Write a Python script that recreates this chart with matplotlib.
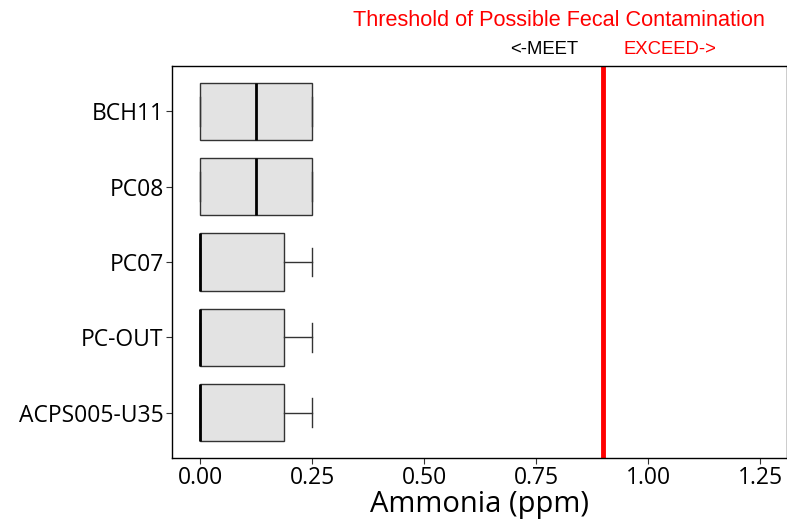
import matplotlib.pyplot as plt
import matplotlib.transforms as mtransforms

# Datos de las cajas (de abajo hacia arriba)
sitios = ["ACPS005-U35", "PC-OUT", "PC07", "PC08", "BCH11"]
q1 = [0.0, 0.0, 0.0, 0.0, 0.0]
mediana = [0.0, 0.0, 0.0, 0.125, 0.125]
q3 = [0.1875, 0.1875, 0.1875, 0.25, 0.25]
bigote_bajo = [0.0, 0.0, 0.0, 0.0, 0.0]
bigote_alto = [0.25, 0.25, 0.25, 0.25, 0.25]
umbral = 0.9
ticks_x = [0.0, 0.25, 0.5, 0.75, 1.0, 1.25]

stats = []
for i in range(len(sitios)):
    stats.append({"label": sitios[i], "q1": q1[i], "med": mediana[i], "q3": q3[i],
                  "whislo": bigote_bajo[i], "whishi": bigote_alto[i], "fliers": []})

fig = plt.figure(figsize=(7.87, 5.22), dpi=100)
ax = fig.add_axes([0.2186, 0.1226, 0.7814, 0.7510])

pos = list(range(1, len(sitios) + 1))
ax.bxp(stats, positions=pos, vert=False, widths=0.76, patch_artist=True,
       showcaps=True,
       boxprops=dict(facecolor="#e3e3e3", edgecolor="#333333", linewidth=1.0),
       medianprops=dict(color="black", linewidth=2.0),
       whiskerprops=dict(color="#333333", linewidth=1.0),
       capprops=dict(color="#333333", linewidth=1.0),
       capwidths=0.38)

ax.axvline(umbral, color="red", linewidth=3.5)

ax.set_xlim(-0.0625, 1.31)
ax.set_ylim(0.4, 5.6)
ax.set_xticks(ticks_x)
ax.set_xticklabels(["0.00", "0.25", "0.50", "0.75", "1.00", "1.25"])
ax.set_yticks(pos)
ax.set_yticklabels(sitios)
fuente = ["Open Sans", "DejaVu Sans"]
for t in ax.get_xticklabels() + ax.get_yticklabels():
    t.set_family(fuente)
    t.set_fontsize(16.5)
    t.set_color("black")
ax.tick_params(length=4, color="#333333", pad=2)
ax.set_xlabel("Ammonia (ppm)", fontsize=21, family=fuente, labelpad=0)

for s in ax.spines.values():
    s.set_color("black")
    s.set_linewidth(1.0)

trans = mtransforms.blended_transform_factory(ax.transData, ax.transAxes)
ax.text(0.80, 1.117, "Threshold of Possible Fecal Contamination", color="red",
        fontsize=15.6, family="Liberation Sans", ha="center", va="center",
        transform=trans, clip_on=False)
ax.text(0.844, 1.041, "<-MEET", color="black", fontsize=13.3,
        family="Liberation Sans", ha="right", va="center", transform=trans, clip_on=False)
ax.text(0.944, 1.041, "EXCEED->", color="red", fontsize=13.3,
        family="Liberation Sans", ha="left", va="center", transform=trans, clip_on=False)

fig.savefig("out.png", dpi=100)
